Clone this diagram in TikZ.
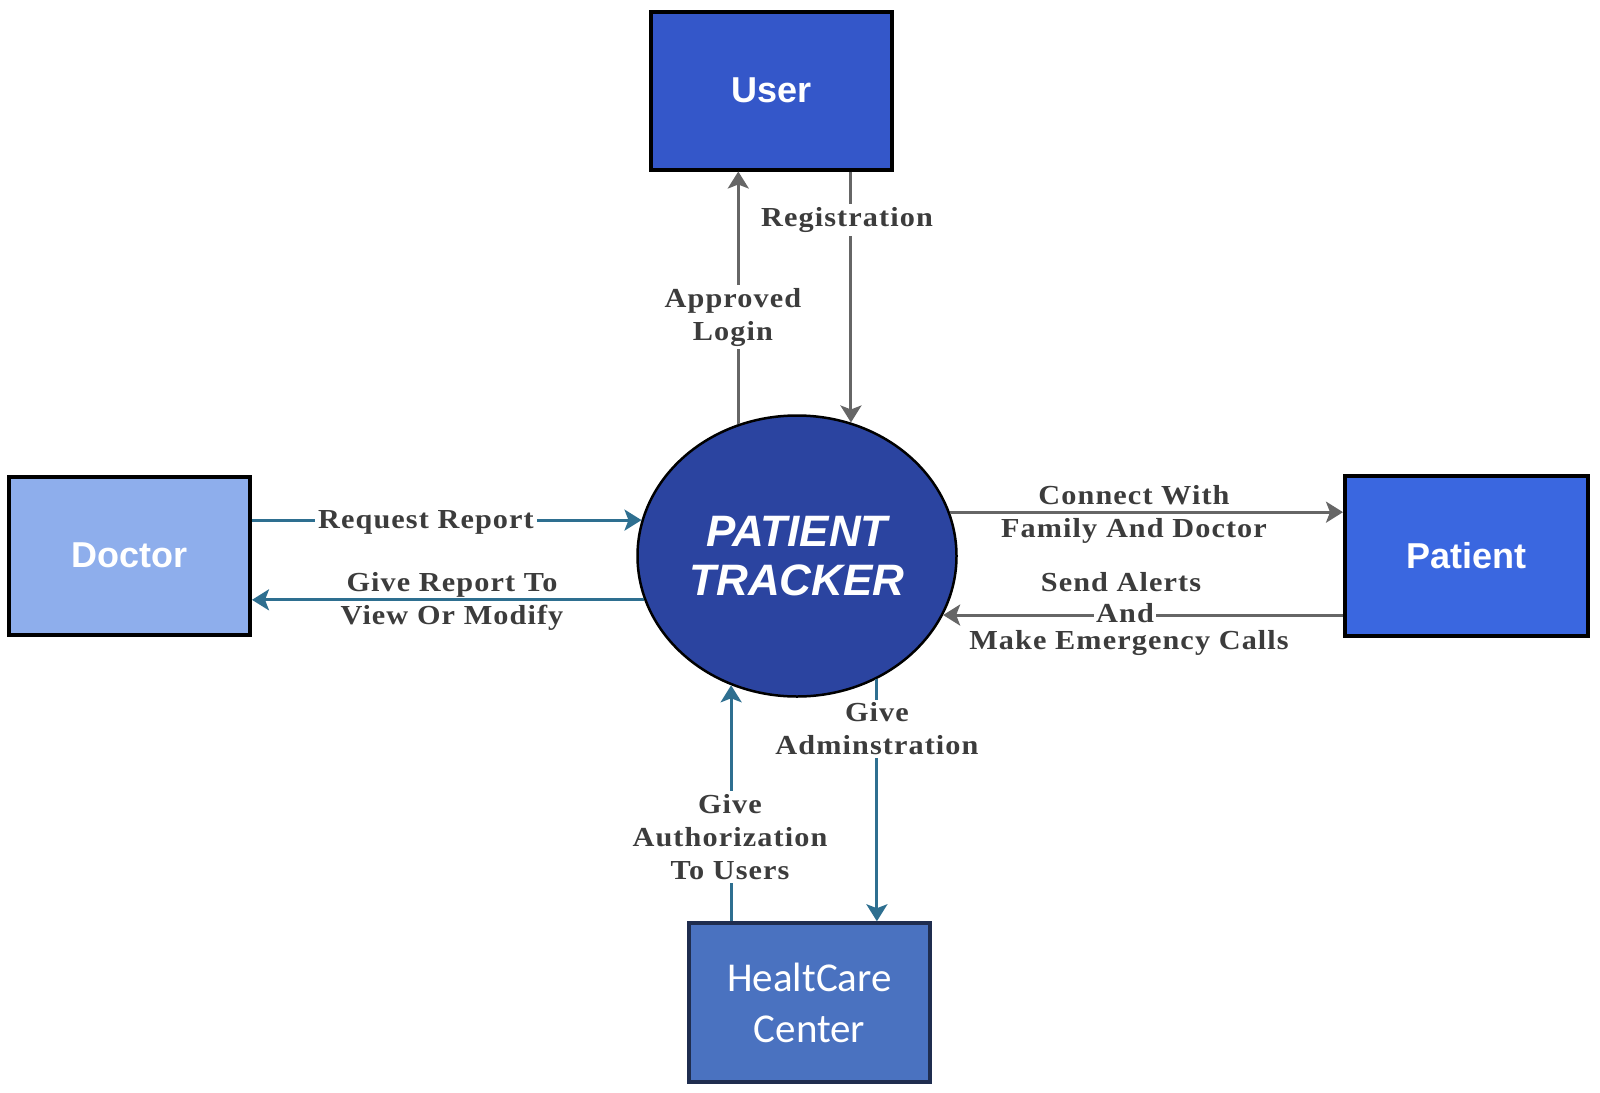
\documentclass[tikz,border=0pt]{standalone}
\usepackage{fontspec}
\usetikzlibrary{shapes.geometric,arrows.meta,calc}
\setmainfont{Liberation Serif}
\newfontfamily\lblfont[FakeStretch=1.1,LetterSpace=4]{Liberation Serif}
\newfontfamily\boxfont{Liberation Sans}
\newfontfamily\hcfont{Carlito}
\definecolor{userblue}{RGB}{52,87,201}
\definecolor{docblue}{RGB}{142,174,236}
\definecolor{patblue}{RGB}{58,103,224}
\definecolor{hcblue}{RGB}{74,114,192}
\definecolor{hcborder}{RGB}{31,45,79}
\definecolor{trackblue}{RGB}{43,68,160}
\definecolor{arrgray}{RGB}{102,102,102}
\definecolor{arrteal}{RGB}{46,111,144}
\definecolor{lbltext}{RGB}{60,60,60}
\tikzset{
  entity/.style={draw=black, line width=4pt, minimum width=241pt, minimum height=158pt,
    inner sep=0pt, text=white, font=\boxfont\bfseries\fontsize{36}{40}\selectfont},
  flowg/.style={draw=arrgray, line width=3pt, -{Stealth[length=17pt,width=21pt,inset=4pt]}},
  flowt/.style={draw=arrteal, line width=3pt, -{Stealth[length=17pt,width=21pt,inset=4pt]}},
  lbl/.style={text=lbltext, font=\lblfont\bfseries\fontsize{27.5}{33}\selectfont, align=center, inner sep=3pt},
  lblw/.style={lbl, fill=white}
}
\begin{document}
\begin{tikzpicture}[x=1pt,y=-1pt]
\useasboundingbox (0,0) rectangle (1600,1092);
% entities
\node[entity, fill=userblue] (user) at (771.5,90.5) {User};
\node[entity, fill=docblue] (doctor) at (129.5,555.5) {Doctor};
\node[entity, fill=patblue, minimum width=243pt, minimum height=160pt] (patient) at (1466.5,556) {Patient};
\node[draw=hcborder, line width=3.5pt, fill=hcblue, minimum width=241pt, minimum height=159pt,
  inner sep=0pt, text=white, align=center, font=\hcfont\fontsize{41}{51}\selectfont] (hc) at (809.5,1002.5) {HealtCare\\Center};
% process
\node[ellipse, draw=black, line width=2.5pt, fill=trackblue, minimum width=319pt, minimum height=281pt,
  inner sep=0pt, text=white, align=center,
  font=\boxfont\bfseries\itshape\fontsize{44}{49}\selectfont] (tracker) at (797,556) {PATIENT\\TRACKER};
% flows
\draw[flowg] (tracker.114.9) -- (tracker.114.9 |- user.south);
\draw[flowg] (tracker.68.4 |- user.south) -- (tracker.68.4);
\draw[flowt] (tracker.167.7 -| doctor.east) -- (tracker.167.7);
\draw[flowt] (tracker.196.8) -- (tracker.196.8 -| doctor.east);
\draw[flowg] (tracker.16) -- (tracker.16 -| patient.west);
\draw[flowg] (tracker.338.9 -| patient.west) -- (tracker.338.9);
\draw[flowt] (tracker.243.8 |- hc.north) -- (tracker.243.8);
\draw[flowt] (tracker.303) -- (tracker.303 |- hc.north);
% labels
\node[lblw] (lreg) at (847,220) {Registration};
\node[lblw] (lapp) at (733,317) {Approved\\Login};
\node[lblw] (lreq) at (426,522) {Request Report};
\node[lbl] (lgive) at (452,601) {Give Report To\\View Or Modify};
\node[lbl] (lconn) at (1134,514) {Connect With\\Family And Doctor};
\node[lbl] (lsend) at (1121,582) {Send Alerts};
\node[lblw, inner sep=2pt] (land) at (1125,613) {And};
\node[lbl] (lmake) at (1129,643) {Make Emergency Calls};
\node[lblw] (ladm) at (877,729) {Give\\Adminstration};
\node[lblw] (lauth) at (730,837) {Give\\Authorization\\To Users};
\end{tikzpicture}
\end{document}
